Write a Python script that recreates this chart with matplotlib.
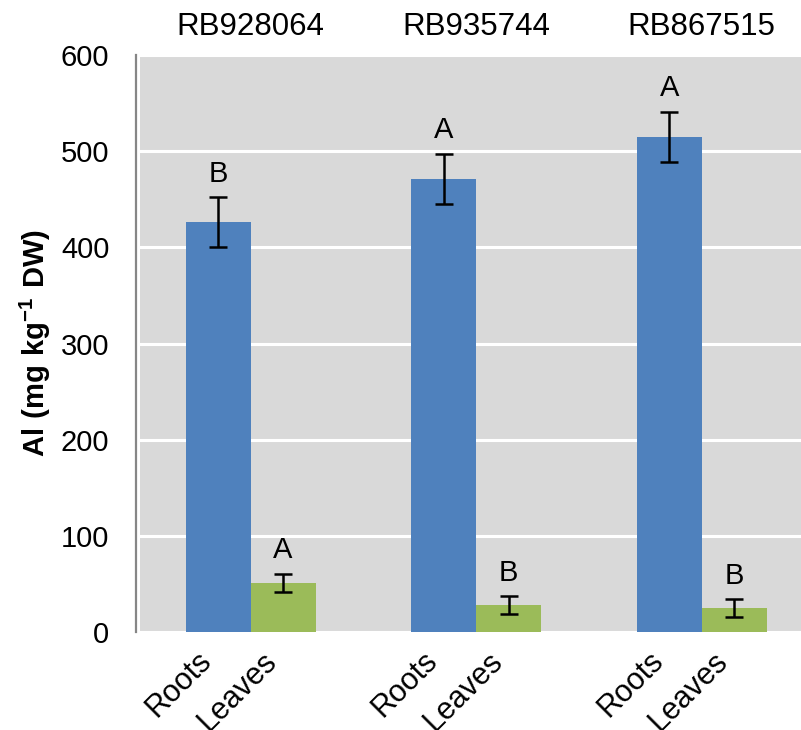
import numpy as np
import matplotlib.pyplot as plt
from matplotlib.transforms import blended_transform_factory

# Al content per cultivar
cultivars = ['RB928064', 'RB935744', 'RB867515']
tissues = ['Roots', 'Leaves']
roots_mean = [426, 471, 515]
roots_err = [26, 26, 26]
leaves_mean = [51, 28, 25]
leaves_err = [9.5, 9, 9]
roots_letters = ['B', 'A', 'A']
leaves_letters = ['A', 'B', 'B']

plt.rcParams['font.family'] = ['Liberation Sans', 'DejaVu Sans']
plt.rcParams['mathtext.fontset'] = 'custom'
plt.rcParams['mathtext.bf'] = 'Liberation Sans:bold'
plt.rcParams['mathtext.rm'] = 'Liberation Sans'

blue = '#4F81BD'
green = '#9BBB59'

fig = plt.figure(figsize=(8.01, 7.30), dpi=100)
ax = fig.add_axes([0.1748, 0.1342, 0.8252, 0.7905])
ax.set_facecolor('#D9D9D9')

x = np.arange(len(cultivars))
width = 0.288
err_kw = dict(ecolor='black', elinewidth=1.8, capsize=6.5, capthick=1.8)

ax.bar(x - width / 2, roots_mean, width, color=blue, yerr=roots_err,
       error_kw=err_kw, zorder=3)
ax.bar(x + width / 2, leaves_mean, width, color=green, yerr=leaves_err,
       error_kw=err_kw, zorder=3)

# significance letters above each error bar
for xi, m, e, lab in zip(x - width / 2, roots_mean, roots_err, roots_letters):
    ax.annotate(lab, (xi, m + e), xytext=(0, 7), textcoords='offset points',
                ha='center', va='bottom', fontsize=21)
for xi, m, e, lab in zip(x + width / 2, leaves_mean, leaves_err, leaves_letters):
    ax.annotate(lab, (xi, m + e), xytext=(0, 7), textcoords='offset points',
                ha='center', va='bottom', fontsize=21)

# cultivar names above the plot area
trans = blended_transform_factory(ax.transData, ax.transAxes)
for xi, name in zip(x, cultivars):
    ax.text(xi, 1.048, name, transform=trans, ha='center', va='center',
            fontsize=22.5)

ax.set_xlim(-0.49, 2.44)
ax.set_ylim(0, 600)
ax.set_yticks(range(0, 601, 100))
ax.yaxis.grid(True, color='white', linewidth=2.2, zorder=0)
ax.set_axisbelow(True)

pos = np.column_stack([x - width / 2, x + width / 2]).ravel()
ax.set_xticks(pos, tissues * len(cultivars), rotation=45, ha='right')
ax.tick_params(axis='x', length=0, pad=10, labelsize=22)
ax.tick_params(axis='y', length=0, pad=19, labelsize=21)

ax.set_ylabel(r'$\mathbf{Al\ (mg\ kg^{-1}\ DW)}$', fontsize=21, labelpad=6)

for side in ['top', 'right', 'bottom']:
    ax.spines[side].set_visible(False)
ax.spines['left'].set_color('#868686')
ax.spines['left'].set_linewidth(1.6)
ax.spines['left'].set_position(('outward', 3))

fig.savefig('out.png', dpi=100)
